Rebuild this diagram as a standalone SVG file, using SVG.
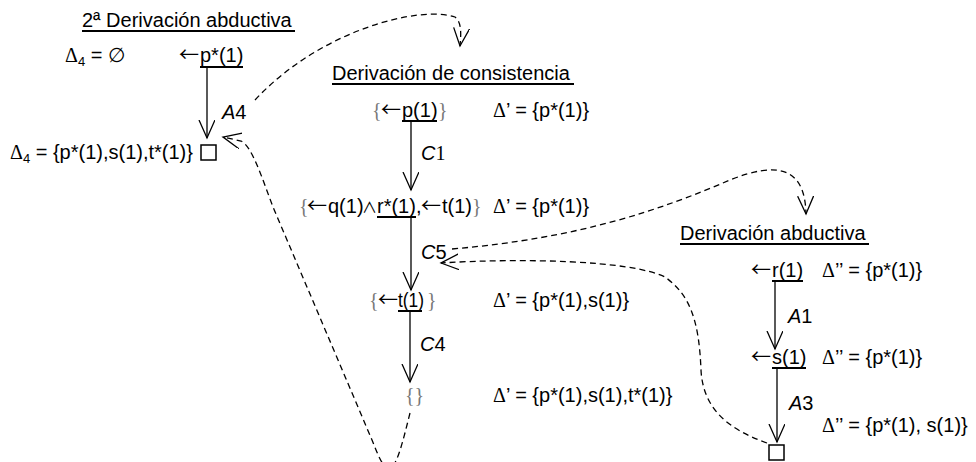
<svg xmlns="http://www.w3.org/2000/svg" width="976" height="462" viewBox="0 0 976 462">
<style>
.t{font-family:"Liberation Sans",Arial,sans-serif;font-size:20px;fill:#000}
.sf{font-family:"Liberation Serif","Times New Roman",serif}
.g{fill:#777;font-family:"Liberation Serif","Times New Roman",serif}
.ar{font-family:"Noto Sans CJK JP","DejaVu Sans",sans-serif;font-size:20px}
.an{font-family:"Noto Sans CJK JP","DejaVu Sans",sans-serif;font-size:15px}
.i{font-style:italic}
.ul{stroke:#000;stroke-width:2}
.e{stroke:#000;stroke-width:1.3;fill:none}
.d{stroke:#000;stroke-width:1.3;fill:none;stroke-dasharray:6 4}
.box{fill:#fff;stroke:#000;stroke-width:1.5}
</style>
<defs>
<marker id="v" markerWidth="22" markerHeight="20" refX="18" refY="8" orient="auto" markerUnits="userSpaceOnUse"><path d="M0,0 L18,8 L0,16" fill="none" stroke="#000" stroke-width="1.3"/></marker>
</defs>
<rect width="976" height="462" fill="#fff"/>

<g id="connectors">
<path class="e" d="M207,67 L207,138" marker-end="url(#v)"/>
<path class="e" d="M411,121 L411,190" marker-end="url(#v)"/>
<path class="e" d="M411,217 L411,290" marker-end="url(#v)"/>
<path class="e" d="M410,311 L410,382" marker-end="url(#v)"/>
<path class="e" d="M775,281 L775,349" marker-end="url(#v)"/>
<path class="e" d="M777,368 L777,442" marker-end="url(#v)"/>
<path class="d" d="M255,100 C320,30 420,5 455,17 C462,22 461,35 460,46" marker-end="url(#v)"/>
<path class="d" d="M452,249 C580,238 660,210 730,180 C775,162 805,165 806,214" marker-end="url(#v)"/>
<path class="d" d="M767,443 C730,430 703,410 701,370 C699,320 690,295 665,277 C630,260 520,258 441,263" marker-end="url(#v)"/>
<path class="d" d="M410,413 C402,445 396,470 388,468 C382,466 378,455 372,440 L273,207 C262,178 252,146 241,141 L223,137" marker-end="url(#v)"/>
</g>

<g id="title-2a">
<text class="t" x="82" y="27">2ª Derivación abductiva</text>
<line class="ul" x1="82" y1="31" x2="295" y2="31"/>
</g>
<g id="delta4-empty"><text class="t" x="65" y="62"><tspan class="sf">Δ</tspan><tspan font-size="13" dy="4">4</tspan><tspan dy="-4"> = ∅</tspan></text></g>
<g id="p-star"><text class="t" y="62"><tspan class="ar" x="179">←</tspan><tspan x="200">p*(1)</tspan></text><line class="ul" x1="200" y1="67" x2="243" y2="67"/></g>
<g id="lbl-a4"><text class="t" x="222" y="119"><tspan class="i">A</tspan>4</text></g>
<g id="delta4-final"><text class="t" x="10" y="159"><tspan class="sf">Δ</tspan><tspan font-size="13" dy="4">4</tspan><tspan dy="-4"> = {p*(1),s(1),t*(1)}</tspan></text>
<rect class="box" x="201" y="145" width="15" height="15"/></g>

<g id="title-consistencia">
<text class="t" x="332" y="80">Derivación de consistencia</text>
<line class="ul" x1="332" y1="84" x2="574" y2="84"/>
</g>
<g id="c-p1"><text class="t" y="117"><tspan class="g" x="372">{</tspan><tspan class="ar" x="381">←</tspan><tspan x="402">p(1)</tspan><tspan class="g" x="438">}</tspan></text><line class="ul" x1="402" y1="121" x2="437" y2="121"/>
<text class="t" x="493" y="117"><tspan class="sf">Δ</tspan>’ = {p*(1)}</text></g>
<g id="lbl-c1"><text class="t" x="421" y="160"><tspan class="i">C</tspan><tspan class="sf">1</tspan></text></g>
<g id="c-q1"><text class="t" y="213"><tspan class="g" x="299">{</tspan><tspan class="ar" x="307">←</tspan><tspan x="328">q(1)</tspan><tspan class="an" x="362">∧</tspan><tspan x="377">r*(1),</tspan><tspan class="ar" x="421">←</tspan><tspan x="442">t(1)</tspan><tspan class="g" x="472">}</tspan></text><line class="ul" x1="377" y1="217" x2="416" y2="217"/>
<text class="t" x="493" y="213"><tspan class="sf">Δ</tspan>’ = {p*(1)}</text></g>
<g id="lbl-c5"><text class="t" x="421" y="259"><tspan class="i">C</tspan>5</text></g>
<g id="c-t1"><text class="t" y="307"><tspan class="g" x="369">{</tspan><tspan class="ar" x="378">←</tspan><tspan x="398" textLength="26" lengthAdjust="spacingAndGlyphs">t(1)</tspan><tspan class="g" x="427">}</tspan></text><line class="ul" x1="398" y1="311" x2="422" y2="311"/>
<text class="t" x="493" y="307"><tspan class="sf">Δ</tspan>’ = {p*(1),s(1)}</text></g>
<g id="lbl-c4"><text class="t" x="420" y="351"><tspan class="i">C</tspan>4</text></g>
<g id="c-empty"><text class="t g" x="405" y="402">{}</text>
<text class="t" x="493" y="402"><tspan class="sf">Δ</tspan>’ = {p*(1),s(1),t*(1)}</text></g>

<g id="title-abductiva">
<text class="t" x="680" y="240">Derivación abductiva</text>
<line class="ul" x1="680" y1="244" x2="869" y2="244"/>
</g>
<g id="a-r1"><text class="t" y="277"><tspan class="ar" x="751">←</tspan><tspan x="772">r(1)</tspan></text><line class="ul" x1="772" y1="281" x2="803" y2="281"/>
<text class="t" x="822" y="277"><tspan class="sf">Δ</tspan>’’ = {p*(1)}</text></g>
<g id="lbl-a1"><text class="t" x="788" y="323"><tspan class="i">A</tspan>1</text></g>
<g id="a-s1"><text class="t" y="364"><tspan class="ar" x="751">←</tspan><tspan x="772">s(1)</tspan></text><line class="ul" x1="772" y1="368" x2="806" y2="368"/>
<text class="t" x="822" y="364"><tspan class="sf">Δ</tspan>’’ = {p*(1)}</text></g>
<g id="lbl-a3"><text class="t" x="789" y="410"><tspan class="i">A</tspan>3</text></g>
<g id="a-box"><rect class="box" x="769" y="445" width="15" height="15"/>
<text class="t" x="822" y="432"><tspan class="sf">Δ</tspan>’’ = {p*(1), s(1)}</text></g>
</svg>
